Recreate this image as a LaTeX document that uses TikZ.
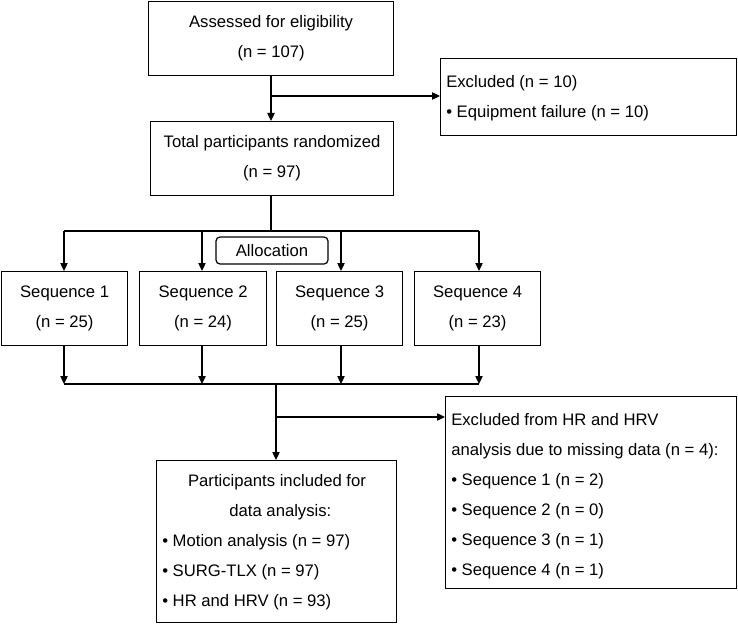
\documentclass[tikz,border=0pt]{standalone}
\usepackage{fontspec}
\setmainfont{Liberation Sans}
\usetikzlibrary{arrows.meta}
\begin{document}
\begin{tikzpicture}[x=0.75pt,y=-0.75pt,
  box/.style={draw,line width=0.9pt,rectangle,inner sep=0pt,anchor=north west},
  txt/.style={inner sep=0pt,font=\fontsize{12.5}{22.5}\selectfont},
  arr/.style={line width=0.9pt,-{Triangle[length=6pt,width=5.5pt]}},
  ln/.style={line width=0.9pt}]
\useasboundingbox (0,0) rectangle (738,624);
\newcommand{\bx}[5]{\node[box,minimum width=#4*0.75pt,minimum height=#5*0.75pt] (#1) at (#2,#3) {};}
\bx{a}{148}{1}{245}{74}
\bx{ex}{440}{58}{296}{77}
\bx{t}{150}{121}{243}{74}
\bx{s1}{1}{271}{126}{74}
\bx{s2}{139}{271}{127}{74}
\bx{s3}{276}{271}{126}{74}
\bx{s4}{414}{271}{126}{74}
\bx{p}{156}{460}{240}{162}
\bx{ex2}{445}{396}{291}{192}
\node[draw,line width=0.9pt,rounded corners=3pt,minimum width=112*0.75pt,minimum height=27*0.75pt,inner sep=0pt,txt] (al) at (272,250.5) {Allocation};
\node[txt,align=center] (at) at (a) {Assessed for eligibility\\(n = 107)};
\node[txt,align=center] (tt) at (t) {Total participants randomized\\(n = 97)};
\node[txt,align=left,anchor=west] (ext) at (446,98) {Excluded (n = 10)\\• Equipment failure (n = 10)};
\foreach \i/\n in {1/25,2/24,3/25,4/23}{\node[txt,align=center] (st\i) at (s\i) {Sequence \i\\(n = \n)};}
\node[txt,align=left,anchor=north west] (pt) at (162,474) {\hphantom{•}\hspace{15pt}Participants included for\\\hphantom{•}\hspace{46pt}data analysis:\\• Motion analysis (n = 97)\\• SURG-TLX (n = 97)\\• HR and HRV (n = 93)};
\node[txt,align=left,anchor=north west] (ex2t) at (451,413) {Excluded from HR and HRV\\analysis due to missing data (n = 4):\\• Sequence 1 (n = 2)\\• Sequence 2 (n = 0)\\• Sequence 3 (n = 1)\\• Sequence 4 (n = 1)};
\coordinate (b1) at (271,96);
\coordinate (j1) at (271,231);
\coordinate (j2) at (276,384);
\coordinate (b2) at (276,417);
\draw[arr] (a.south -| b1) -- (t.north -| b1);
\draw[arr] (b1) -- (ex.west |- b1);
\draw[ln] (t.south -| j1) -- (j1);
\draw[ln] (64,231) -- (479,231);
\foreach \x/\s in {64/s1,202/s2,341/s3,479/s4}{
  \draw[arr] (\x,231) -- (\s.north -| \x,0);
  \draw[arr] (\s.south -| \x,0) -- (\x,384);}
\draw[ln] (64,384) -- (479,384);
\draw[arr] (j2) -- (p.north -| j2);
\draw[arr] (b2) -- (ex2.west |- b2);
\end{tikzpicture}
\end{document}
